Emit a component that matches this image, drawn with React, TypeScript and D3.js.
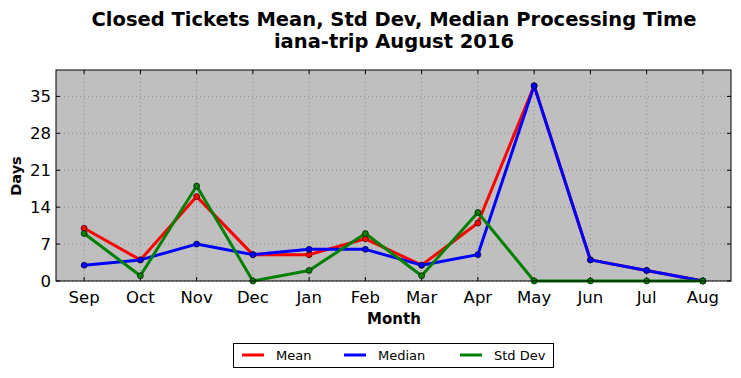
import React from "react";
import * as d3 from "d3";

const months = ["Sep", "Oct", "Nov", "Dec", "Jan", "Feb", "Mar", "Apr", "May", "Jun", "Jul", "Aug"];
const meanVals = [10, 4, 16, 5, 5, 8, 3, 11, 37, 4, 2, 0];
const medianVals = [3, 4, 7, 5, 6, 6, 3, 5, 37, 4, 2, 0];
const stdVals = [9, 1, 18, 0, 2, 9, 1, 13, 0, 0, 0, 0];
const yTicks = [0, 7, 14, 21, 28, 35];
const seriesNames = ["Mean", "Median", "Std Dev"];
const seriesColors = ["#ff0000", "#0000ff", "#008000"];

export default function App() {
  const W = 741, H = 378;
  const left = 56, right = 731, top = 70, bottom = 281;
  const x = d3.scaleLinear().domain([-0.5, 11.5]).range([left, right]);
  const y = d3.scaleLinear().domain([0, 40]).range([bottom, top]);
  const line = d3.line<number>().x((_, i) => x(i)).y((d) => y(d));
  const all = [meanVals, medianVals, stdVals];
  const font = "DejaVu Sans, sans-serif";
  const legendX = [242, 344, 460];
  return (
    <svg width={W} height={H} style={{ position: "absolute", left: 0, top: 0 }} fontFamily={font}>
      <rect x={0} y={0} width={W} height={H} fill="#fff" />
      <text x={394} y={26} textAnchor="middle" fontSize={19.5} fontWeight="bold">Closed Tickets Mean, Std Dev, Median Processing Time</text>
      <text x={394} y={48} textAnchor="middle" fontSize={19.5} fontWeight="bold">iana-trip August 2016</text>
      <rect x={left} y={top} width={right - left} height={bottom - top} fill="#bfbfbf" />
      {yTicks.map((t) => (
        <g key={"y" + t}>
          <line x1={left} x2={right} y1={y(t)} y2={y(t)} stroke="#808080" strokeWidth={0.8} strokeDasharray="1,3" />
          <line x1={left} x2={left + 4} y1={y(t)} y2={y(t)} stroke="#000" />
          <line x1={right} x2={right - 4} y1={y(t)} y2={y(t)} stroke="#000" />
          <text x={left - 5} y={y(t)} dy="0.35em" textAnchor="end" fontSize={16.5}>{t}</text>
        </g>
      ))}
      {months.map((m, i) => (
        <g key={m}>
          <line x1={x(i)} x2={x(i)} y1={top} y2={bottom} stroke="#808080" strokeWidth={0.8} strokeDasharray="1,3" />
          <line x1={x(i)} x2={x(i)} y1={bottom} y2={bottom - 4} stroke="#000" />
          <line x1={x(i)} x2={x(i)} y1={top} y2={top + 4} stroke="#000" />
          <text x={x(i)} y={bottom + 22} textAnchor="middle" fontSize={16.5}>{m}</text>
        </g>
      ))}
      {all.map((vals, s) => (
        <g key={"s" + s}>
          <path d={line(vals) || ""} fill="none" stroke={seriesColors[s]} strokeWidth={3} strokeLinejoin="round" />
          {vals.map((v, i) => (
            <circle key={i} cx={x(i)} cy={y(v)} r={3} fill={seriesColors[s]} stroke="#000" strokeWidth={0.6} />
          ))}
        </g>
      ))}
      <rect x={left} y={top} width={right - left} height={bottom - top} fill="none" stroke="#000" strokeWidth={1} />
      <text transform={`translate(21,176) rotate(-90)`} textAnchor="middle" fontSize={14.5} fontWeight="bold">Days</text>
      <text x={394} y={324} textAnchor="middle" fontSize={15} fontWeight="bold">Month</text>
      <rect x={233.5} y={343.5} width={320} height={24} fill="#fff" stroke="#000" strokeWidth={1} />
      {seriesNames.map((n, s) => (
        <g key={n}>
          <line x1={legendX[s]} x2={legendX[s] + 22} y1={355} y2={355} stroke={seriesColors[s]} strokeWidth={3} />
          <text x={legendX[s] + 34} y={355} dy="0.35em" fontSize={13}>{n}</text>
        </g>
      ))}
    </svg>
  );
}
